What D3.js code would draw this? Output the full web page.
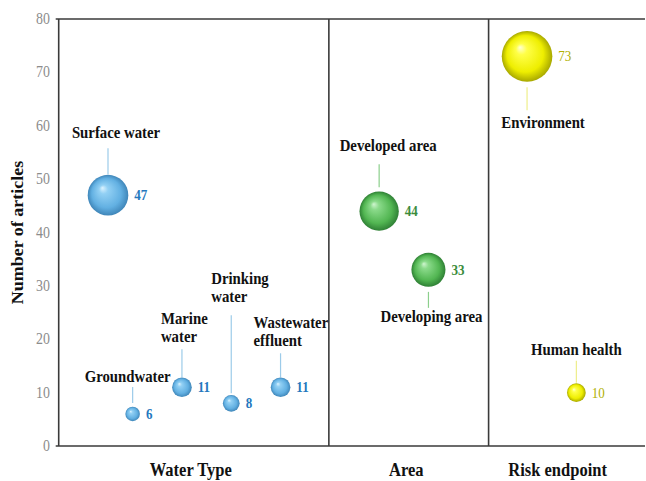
<!DOCTYPE html>
<html>
<head>
<meta charset="utf-8">
<script src="https://cdn.jsdelivr.net/npm/d3@7"></script>
<style>
  body { margin: 0; background: #fff; }
</style>
</head>
<body>
<svg id="chart" width="646" height="481"></svg>
<script>
// data
var categories = ["Surface water", "Groundwater", "Marine water", "Drinking water",
		  "Wastewater effluent", "Developed area", "Developing area",
		  "Environment", "Human health"];
var articles = [47, 6, 11, 8, 11, 44, 33, 73, 10];
var slots = [1, 1.5, 2.5, 3.5, 4.5, 6.5, 7.5, 9.5, 10.5];
var groupOf = ["water", "water", "water", "water", "water", "area", "area", "risk", "risk"];
var groupNames = ["Water Type", "Area", "Risk endpoint"];
var groupCenters = [2.68, 7.05, 10.12];
var dividers = [5.48, 8.72];
var yTicks = [0, 10, 20, 30, 40, 50, 60, 70, 80];

// label placement, pixels from bubble centre
var labelLayout = {
    "Surface water":       {lines: ["Surface water"], anchor: "middle", dx: 8, dy: [-57], l: [-47, -21]},
    "Groundwater":         {lines: ["Groundwater"], anchor: "middle", dx: -5, dy: [-32], l: [-27, -11]},
    "Marine water":        {lines: ["Marine", "water"], anchor: "start", dx: -21, dy: [-63, -45], l: [-38, -10]},
    "Drinking water":      {lines: ["Drinking", "water"], anchor: "start", dx: -20, dy: [-119, -101], l: [-88, -10]},
    "Wastewater effluent": {lines: ["Wastewater", "effluent"], anchor: "start", dx: -27, dy: [-59, -41], l: [-34, -10]},
    "Developed area":      {lines: ["Developed area"], anchor: "middle", dx: 9, dy: [-60], l: [-47, -24]},
    "Developing area":     {lines: ["Developing area"], anchor: "middle", dx: 3, dy: [52], l: [22, 38]},
    "Environment":         {lines: ["Environment"], anchor: "middle", dx: 16, dy: [72], l: [31, 54]},
    "Human health":        {lines: ["Human health"], anchor: "middle", dx: 0, dy: [-38], l: [-32, -10]}
};

var palette = {
    water: {stops: ["#dcf3ff", "#92d0f4", "#62b0e2", "#3f86b9"], line: "#9ccbe9", text: "#2478be", weight: "bold"},
    area:  {stops: ["#cff5cf", "#8ada8a", "#52b652", "#2f8035"], line: "#8ccf8c", text: "#3b8c3b", weight: "bold"},
    risk:  {stops: ["#ffffd6", "#ffff48", "#eeee00", "#a8a800"], line: "#eeee8a", text: "#b0b000", weight: "normal"}
};

var SQ = 0.87; // text in the picture is a little narrow
var FONT = "'Liberation Serif', 'Times New Roman', serif";

var width = 646, height = 481;
var svg = d3.select("#chart");

var x = d3.scaleLinear().domain([0, 12]).range([58.7, 58.7 + 12 * 49.3]);
var y = d3.scaleLinear().domain([0, 80]).range([446, 19]);
var r = d3.scaleSqrt().domain([0, 73]).range([0, 25.3]);

var defs = svg.append("defs");
Object.keys(palette).forEach(function(k){
    var g = defs.append("radialGradient")
	.attr("id", "ball-" + k)
	.attr("cx", "50%").attr("cy", "50%").attr("r", "50%")
	.attr("fx", "36%").attr("fy", "32%");
    var offs = [0, 0.22, 0.72, 1];
    palette[k].stops.forEach(function(c, i){
	g.append("stop").attr("offset", offs[i]).attr("stop-color", c);
    });
});

function squeezed(sel, px, py){
    return sel.attr("transform", "translate(" + px + "," + py + ") scale(" + SQ + ",1)")
	.style("font-family", FONT);
}

// y tick labels
svg.append("g").selectAll("text")
    .data(yTicks)
    .enter().append("text")
    .each(function(d){ squeezed(d3.select(this), 50, y(d) + 5); })
    .attr("text-anchor", "end")
    .attr("font-size", 16)
    .attr("fill", "#8c8c8c")
    .text(function(d){ return d; });

// frame
var frame = svg.append("g")
    .attr("stroke", "#3a3a3a")
    .attr("stroke-width", 1.6);
frame.append("line")
    .attr("x1", x(0) - 3).attr("x2", width - 1)
    .attr("y1", y(80)).attr("y2", y(80));
frame.append("line")
    .attr("x1", x(0) - 3).attr("x2", width - 1)
    .attr("y1", y(0)).attr("y2", y(0));
frame.append("line")
    .attr("x1", x(0)).attr("x2", x(0))
    .attr("y1", y(80)).attr("y2", y(0));
frame.selectAll(".div")
    .data(dividers)
    .enter().append("line")
    .attr("x1", function(d){ return x(d); })
    .attr("x2", function(d){ return x(d); })
    .attr("y1", y(80)).attr("y2", y(0));

// axis title
svg.append("text")
    .attr("transform", "translate(23," + ((y(0) + y(80)) / 2) + ") scale(" + SQ + ",1) rotate(-90)")
    .style("font-family", FONT)
    .attr("text-anchor", "middle")
    .attr("font-size", 18)
    .attr("font-weight", "bold")
    .attr("fill", "#111")
    .text("Number of articles");

// group names under the axis
svg.append("g").selectAll("text")
    .data(groupNames)
    .enter().append("text")
    .each(function(d, i){ squeezed(d3.select(this), x(groupCenters[i]), 476); })
    .attr("text-anchor", "middle")
    .attr("font-size", 19)
    .attr("font-weight", "bold")
    .attr("fill", "#111")
    .text(function(d){ return d; });

var points = categories.map(function(c, i){
    return {name: c, value: articles[i], slot: slots[i], group: groupOf[i]};
});

var pt = svg.append("g").selectAll("g")
    .data(points)
    .enter().append("g");

// leader lines
pt.append("line")
    .attr("x1", function(d){ return x(d.slot); })
    .attr("x2", function(d){ return x(d.slot); })
    .attr("y1", function(d){ return y(d.value) + labelLayout[d.name].l[0]; })
    .attr("y2", function(d){ return y(d.value) + labelLayout[d.name].l[1]; })
    .attr("stroke", function(d){ return palette[d.group].line; })
    .attr("stroke-width", 1.2);

// bubbles
pt.append("circle")
    .attr("cx", function(d){ return x(d.slot); })
    .attr("cy", function(d){ return y(d.value); })
    .attr("r", function(d){ return r(d.value); })
    .attr("fill", function(d){ return "url(#ball-" + d.group + ")"; });

// category labels
pt.each(function(d){
    var lay = labelLayout[d.name];
    var g = d3.select(this);
    lay.lines.forEach(function(t, j){
	g.append("text")
	    .call(squeezed, x(d.slot) + lay.dx, y(d.value) + lay.dy[j])
	    .attr("text-anchor", lay.anchor)
	    .attr("font-size", 17)
	    .attr("font-weight", "bold")
	    .attr("fill", "#111")
	    .text(t);
    });
});

// value labels
pt.append("text")
    .each(function(d){
	squeezed(d3.select(this), x(d.slot) + r(d.value) + 6, y(d.value) + 5);
    })
    .attr("font-size", 15)
    .attr("font-weight", function(d){ return palette[d.group].weight; })
    .attr("fill", function(d){ return palette[d.group].text; })
    .text(function(d){ return d.value; });
</script>
</body>
</html>
